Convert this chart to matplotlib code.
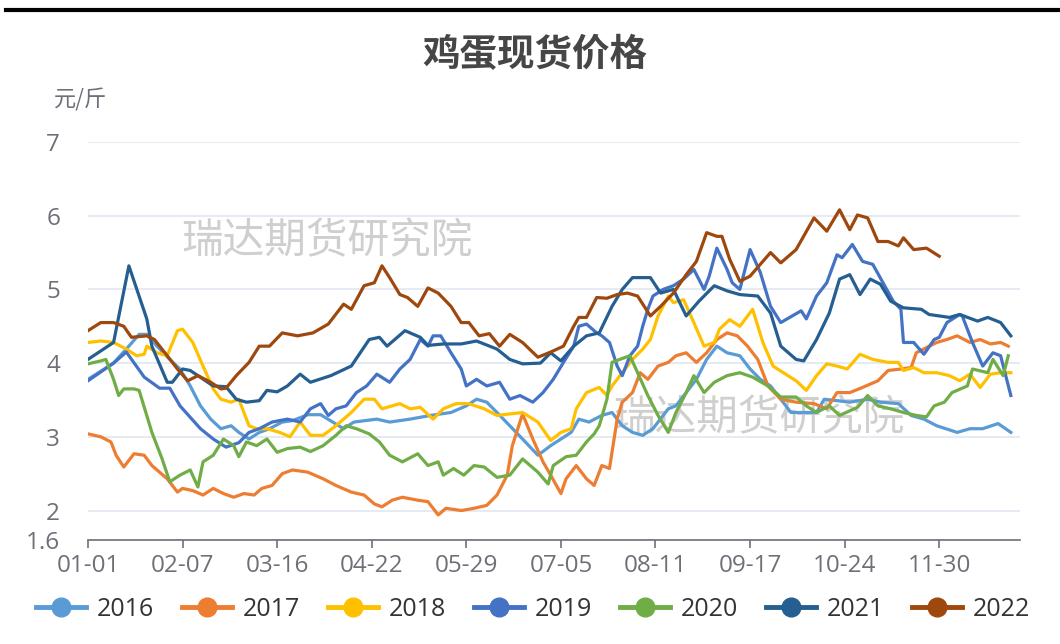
import matplotlib
matplotlib.use("Agg")
import matplotlib.pyplot as plt
from matplotlib.lines import Line2D

plt.rcParams['font.family'] = ['Open Sans', 'Noto Sans CJK SC', 'DejaVu Sans']
cjk = ['Noto Sans CJK SC', 'DejaVu Sans']

# 鸡蛋现货价格 (元/斤), points as (day of year, price)
years = ['2016', '2017', '2018', '2019', '2020', '2021', '2022']
colors = ['#5B9BD5', '#ED7D31', '#FFC000', '#4472C4', '#70AD47', '#255E91', '#9E480E']

s2016 = [(0, 3.78), (10, 4.0), (16, 4.23), (20, 4.39), (23, 4.39), (27, 4.23), (32, 4.05), (36, 3.92),
         (40, 3.69), (44, 3.42), (48, 3.24), (52, 3.11), (56, 3.15), (59, 3.06), (63, 2.97), (67, 3.06),
         (71, 3.11), (76, 3.2), (80, 3.22), (86, 3.3), (91, 3.3), (100, 3.11), (104, 3.2), (113, 3.24),
         (118, 3.2), (126, 3.24), (134, 3.29), (142, 3.33), (148, 3.42), (152, 3.51), (156, 3.47),
         (160, 3.33), (165, 3.15), (170, 2.97), (176, 2.75), (181, 2.88), (185, 2.97), (189, 3.06),
         (192, 3.24), (196, 3.2), (201, 3.29), (205, 3.33), (209, 3.15), (213, 3.06), (217, 3.02),
         (221, 3.11), (227, 3.38), (230, 3.42), (234, 3.6), (238, 3.78), (242, 4.05), (246, 4.23),
         (250, 4.14), (255, 4.1), (259, 3.92), (263, 3.78), (267, 3.69), (271, 3.51), (275, 3.33),
         (285, 3.33), (288, 3.51), (293, 3.49), (298, 3.47), (305, 3.51), (310, 3.47), (317, 3.45),
         (322, 3.29), (327, 3.24), (332, 3.15), (340, 3.06), (345, 3.11), (350, 3.11), (356, 3.18),
         (361, 3.06)]

s2017 = [(0, 3.04), (5, 3.0), (9, 2.93), (11, 2.75), (14, 2.59), (18, 2.77), (22, 2.75), (25, 2.61),
         (31, 2.43), (35, 2.25), (37, 2.3), (41, 2.27), (45, 2.21), (49, 2.3), (53, 2.23), (57, 2.18),
         (61, 2.23), (65, 2.21), (68, 2.3), (72, 2.34), (76, 2.5), (80, 2.55), (86, 2.52), (92, 2.43),
         (97, 2.34), (103, 2.25), (108, 2.21), (112, 2.09), (115, 2.05), (119, 2.14), (123, 2.18),
         (129, 2.14), (133, 2.12), (137, 1.94), (140, 2.03), (146, 2.0), (151, 2.03), (156, 2.07),
         (160, 2.21), (164, 2.48), (166, 2.88), (170, 3.31), (174, 2.97), (178, 2.66), (181, 2.48),
         (185, 2.23), (187, 2.43), (191, 2.61), (195, 2.43), (198, 2.34), (201, 2.61), (204, 2.57),
         (207, 3.24), (209, 3.47), (213, 3.6), (216, 3.87), (219, 3.78), (223, 3.96), (227, 4.01),
         (230, 4.1), (234, 4.14), (238, 4.01), (242, 4.14), (246, 4.32), (250, 4.41), (254, 4.37),
         (258, 4.23), (262, 4.05), (266, 3.69), (271, 3.51), (277, 3.47), (284, 3.45), (289, 3.38),
         (293, 3.6), (298, 3.6), (303, 3.67), (309, 3.76), (313, 3.9), (318, 3.92), (322, 3.94),
         (324, 4.14), (328, 4.21), (332, 4.28), (336, 4.32), (340, 4.37), (345, 4.28), (349, 4.32),
         (353, 4.26), (357, 4.28), (360, 4.23)]

s2018 = [(0, 4.28), (5, 4.3), (10, 4.28), (15, 4.19), (19, 4.1), (22, 4.12), (23, 4.23), (27, 4.14),
         (31, 4.1), (35, 4.44), (37, 4.46), (41, 4.28), (45, 3.96), (49, 3.65), (52, 3.51), (56, 3.47),
         (59, 3.51), (63, 3.15), (66, 3.11), (70, 3.11), (75, 3.06), (79, 3.0), (83, 3.2), (87, 3.02),
         (92, 3.02), (97, 3.15), (103, 3.33), (108, 3.51), (112, 3.51), (115, 3.38), (122, 3.45),
         (126, 3.38), (130, 3.4), (135, 3.24), (139, 3.38), (144, 3.45), (149, 3.45), (155, 3.38),
         (160, 3.29), (165, 3.31), (170, 3.33), (176, 3.2), (181, 2.95), (185, 3.06), (189, 3.11),
         (191, 3.38), (195, 3.6), (200, 3.67), (203, 3.56), (205, 3.69), (209, 3.87), (213, 4.05),
         (217, 4.19), (220, 4.32), (223, 4.64), (227, 4.91), (229, 4.82), (233, 4.86), (237, 4.55),
         (241, 4.23), (245, 4.28), (247, 4.46), (251, 4.59), (255, 4.5), (260, 4.73), (264, 4.28),
         (268, 3.96), (272, 3.87), (277, 3.76), (281, 3.63), (285, 3.83), (289, 3.99), (293, 3.96),
         (297, 3.92), (302, 4.12), (307, 4.05), (313, 4.01), (317, 4.01), (319, 3.9), (323, 3.94),
         (327, 3.87), (332, 3.87), (337, 3.83), (341, 3.76), (345, 3.85), (349, 3.67), (353, 3.85),
         (357, 3.87), (361, 3.87)]

s2019 = [(0, 3.76), (10, 4.0), (15, 4.15), (22, 3.81), (28, 3.66), (32, 3.66), (36, 3.42), (44, 3.11),
         (49, 2.97), (54, 2.86), (59, 2.92), (63, 3.06), (67, 3.11), (72, 3.2), (78, 3.24), (83, 3.2),
         (87, 3.38), (91, 3.45), (94, 3.29), (97, 3.38), (101, 3.42), (105, 3.6), (109, 3.69),
         (113, 3.85), (118, 3.74), (122, 3.92), (126, 4.05), (130, 4.32), (133, 4.23), (135, 4.37),
         (138, 4.37), (142, 4.14), (146, 3.92), (148, 3.69), (152, 3.78), (156, 3.69), (161, 3.74),
         (165, 3.51), (169, 3.56), (174, 3.47), (178, 3.6), (182, 3.78), (186, 4.01), (190, 4.23),
         (192, 4.5), (195, 4.53), (199, 4.41), (201, 4.37), (204, 4.28), (207, 3.96), (209, 3.83),
         (212, 4.1), (215, 4.23), (217, 4.5), (219, 4.73), (221, 4.91), (225, 5.0), (229, 5.05),
         (233, 5.14), (237, 5.27), (241, 5.0), (243, 5.18), (246, 5.56), (250, 5.27), (252, 5.09),
         (255, 5.0), (259, 5.54), (263, 5.23), (267, 4.77), (271, 4.55), (279, 4.71), (281, 4.6),
         (285, 4.91), (289, 5.09), (293, 5.47), (295, 5.43), (299, 5.61), (303, 5.38), (307, 5.34),
         (311, 5.09), (315, 4.84), (318, 4.73), (319, 4.28), (323, 4.28), (327, 4.12), (331, 4.32),
         (333, 4.35), (336, 4.55), (341, 4.66), (342, 4.64), (346, 4.28), (350, 3.96), (354, 4.14),
         (357, 4.1), (361, 3.56)]

s2020 = [(0, 3.99), (5, 4.03), (7, 4.05), (10, 3.78), (12, 3.56), (14, 3.65), (18, 3.65), (20, 3.63),
         (25, 3.06), (29, 2.7), (32, 2.39), (36, 2.48), (40, 2.55), (43, 2.32), (45, 2.66), (49, 2.75),
         (53, 2.97), (57, 2.88), (59, 2.73), (62, 2.93), (66, 2.88), (70, 2.97), (74, 2.79), (78, 2.84),
         (83, 2.86), (87, 2.8), (92, 2.88), (97, 3.02), (101, 3.15), (105, 3.11), (110, 3.04),
         (114, 2.93), (118, 2.75), (123, 2.66), (129, 2.77), (133, 2.61), (137, 2.66), (139, 2.48),
         (143, 2.57), (147, 2.48), (151, 2.61), (155, 2.59), (160, 2.45), (165, 2.48), (170, 2.7),
         (176, 2.52), (180, 2.36), (182, 2.61), (187, 2.73), (191, 2.75), (195, 2.93), (198, 3.04),
         (200, 3.15), (203, 3.51), (205, 4.01), (208, 4.05), (212, 4.1), (215, 3.87), (219, 3.56),
         (223, 3.29), (227, 3.06), (230, 3.33), (234, 3.6), (237, 3.83), (241, 3.6), (245, 3.74),
         (250, 3.83), (255, 3.87), (260, 3.81), (266, 3.69), (271, 3.54), (277, 3.54), (281, 3.42),
         (285, 3.33), (290, 3.42), (294, 3.29), (301, 3.4), (305, 3.56), (309, 3.42), (314, 3.38),
         (319, 3.33), (324, 3.29), (328, 3.27), (331, 3.42), (335, 3.47), (338, 3.6), (344, 3.69),
         (346, 3.92), (352, 3.87), (354, 4.05), (358, 3.83), (360, 4.1)]

s2021 = [(0, 4.05), (10, 4.28), (16, 5.32), (23, 4.6), (25, 4.23), (31, 3.74), (33, 3.74), (37, 3.92),
         (40, 3.9), (49, 3.69), (54, 3.68), (58, 3.51), (62, 3.47), (67, 3.49), (70, 3.63), (74, 3.61),
         (78, 3.69), (83, 3.85), (87, 3.74), (95, 3.83), (103, 3.96), (110, 4.32), (114, 4.35),
         (117, 4.23), (124, 4.44), (130, 4.35), (133, 4.24), (139, 4.26), (146, 4.26), (152, 4.3),
         (160, 4.19), (165, 4.05), (170, 3.99), (177, 4.0), (181, 4.14), (185, 4.03), (190, 4.23),
         (195, 4.37), (200, 4.41), (205, 4.77), (209, 5.0), (213, 5.16), (220, 5.16), (224, 4.95),
         (229, 5.0), (234, 4.64), (239, 4.84), (245, 5.05), (250, 4.98), (255, 4.93), (262, 4.91),
         (267, 4.68), (271, 4.23), (277, 4.05), (280, 4.03), (285, 4.32), (290, 4.68), (294, 5.14),
         (298, 5.2), (302, 4.93), (306, 5.14), (310, 5.07), (314, 4.84), (319, 4.75), (326, 4.73),
         (329, 4.66), (337, 4.62), (341, 4.66), (348, 4.57), (352, 4.62), (357, 4.55), (361, 4.37)]

s2022 = [(0, 4.44), (5, 4.55), (10, 4.55), (14, 4.5), (17, 4.35), (23, 4.37), (26, 4.32), (31, 4.1),
         (35, 3.92), (39, 3.76), (43, 3.83), (48, 3.74), (52, 3.65), (54, 3.66), (58, 3.83), (63, 4.01),
         (67, 4.23), (71, 4.23), (76, 4.41), (82, 4.37), (88, 4.41), (94, 4.53), (100, 4.8), (103, 4.73),
         (108, 5.05), (112, 5.09), (115, 5.32), (118, 5.16), (122, 4.93), (125, 4.89), (129, 4.77),
         (133, 5.02), (137, 4.95), (142, 4.77), (146, 4.55), (149, 4.55), (153, 4.37), (157, 4.4),
         (161, 4.23), (165, 4.39), (170, 4.28), (176, 4.08), (181, 4.15), (186, 4.23), (190, 4.5),
         (192, 4.62), (195, 4.62), (199, 4.89), (203, 4.88), (207, 4.93), (211, 4.95), (215, 4.91),
         (220, 4.64), (224, 4.77), (229, 4.95), (234, 5.2), (238, 5.38), (242, 5.77), (246, 5.72),
         (248, 5.72), (251, 5.41), (255, 5.11), (259, 5.18), (263, 5.34), (267, 5.5), (271, 5.36),
         (277, 5.54), (284, 5.97), (289, 5.79), (294, 6.08), (298, 5.81), (301, 6.01), (305, 5.97),
         (309, 5.65), (313, 5.65), (317, 5.59), (319, 5.7), (323, 5.54), (328, 5.56), (333, 5.45)]

series = [s2016, s2017, s2018, s2019, s2020, s2021, s2022]

tick_days = [0, 37, 74, 111, 148, 185, 222, 259, 296, 333]
tick_labels = ['01-01', '02-07', '03-16', '04-22', '05-29', '07-05', '08-11', '09-17', '10-24', '11-30']
y_ticks = [1.6, 2, 3, 4, 5, 6, 7]
y_labels = ['1.6', '2', '3', '4', '5', '6', '7']

fig = plt.figure(figsize=(10.6, 6.44), dpi=100)
ax = fig.add_axes([0.083, 0.1615, 0.8793, 0.618])

for name, pts, c in zip(years, series, colors):
    d, v = zip(*pts)
    ax.plot(d, v, color=c, lw=2.3, label=name, solid_joinstyle='round', zorder=3)

ax.set_xlim(0, 364.6)
ax.set_ylim(1.6, 7)
ax.set_xticks(tick_days)
ax.set_xticklabels(tick_labels)
ax.set_yticks(y_ticks)
ax.set_yticklabels(y_labels)
ax.grid(axis='y', color='#E0E6F1', lw=1.2, zorder=0)
ax.set_axisbelow(True)
for s in ['left', 'top', 'right']:
    ax.spines[s].set_visible(False)
ax.spines['bottom'].set_color('#6E7079')
ax.spines['bottom'].set_linewidth(1.2)
ax.tick_params(axis='x', colors='#6E7079', labelcolor='#6E7079', length=6, width=1.2,
               labelsize=17.5, pad=4)
ax.tick_params(axis='y', length=0, labelcolor='#6E7079', labelsize=17.5, pad=20)

# watermark
ax.text(0.1, 0.748, '瑞达期货研究院', transform=ax.transAxes, fontsize=30, color='#CFCFCF',
        va='center', ha='left', zorder=1, family=cjk)
ax.text(0.5635, 0.305, '瑞达期货研究院', transform=ax.transAxes, fontsize=30, color='#CFCFCF',
        va='center', ha='left', zorder=1, family=cjk)

fig.text(0.505, 0.915, '鸡蛋现货价格', ha='center', va='center', fontsize=27,
         fontweight='bold', color='#464646', family=cjk)
fig.text(0.051, 0.845, '元/斤', ha='left', va='center', fontsize=16, color='#6E7079', family=cjk)

# top rule
fig.add_artist(Line2D([0.006, 1.0], [0.985, 0.985], transform=fig.transFigure, color='black', lw=3))

handles = [Line2D([0], [0], color=c, lw=3.5, marker='o', markersize=13.5, markerfacecolor=c,
                  markeredgecolor=c) for c in colors]
fig.legend(handles, years, loc='center', bbox_to_anchor=(0.503, 0.054), ncol=7, frameon=False,
           fontsize=18, handlelength=2.0, handletextpad=0.45, columnspacing=1.1,
           labelcolor='#333333')

fig.savefig('out.png', dpi=100)
